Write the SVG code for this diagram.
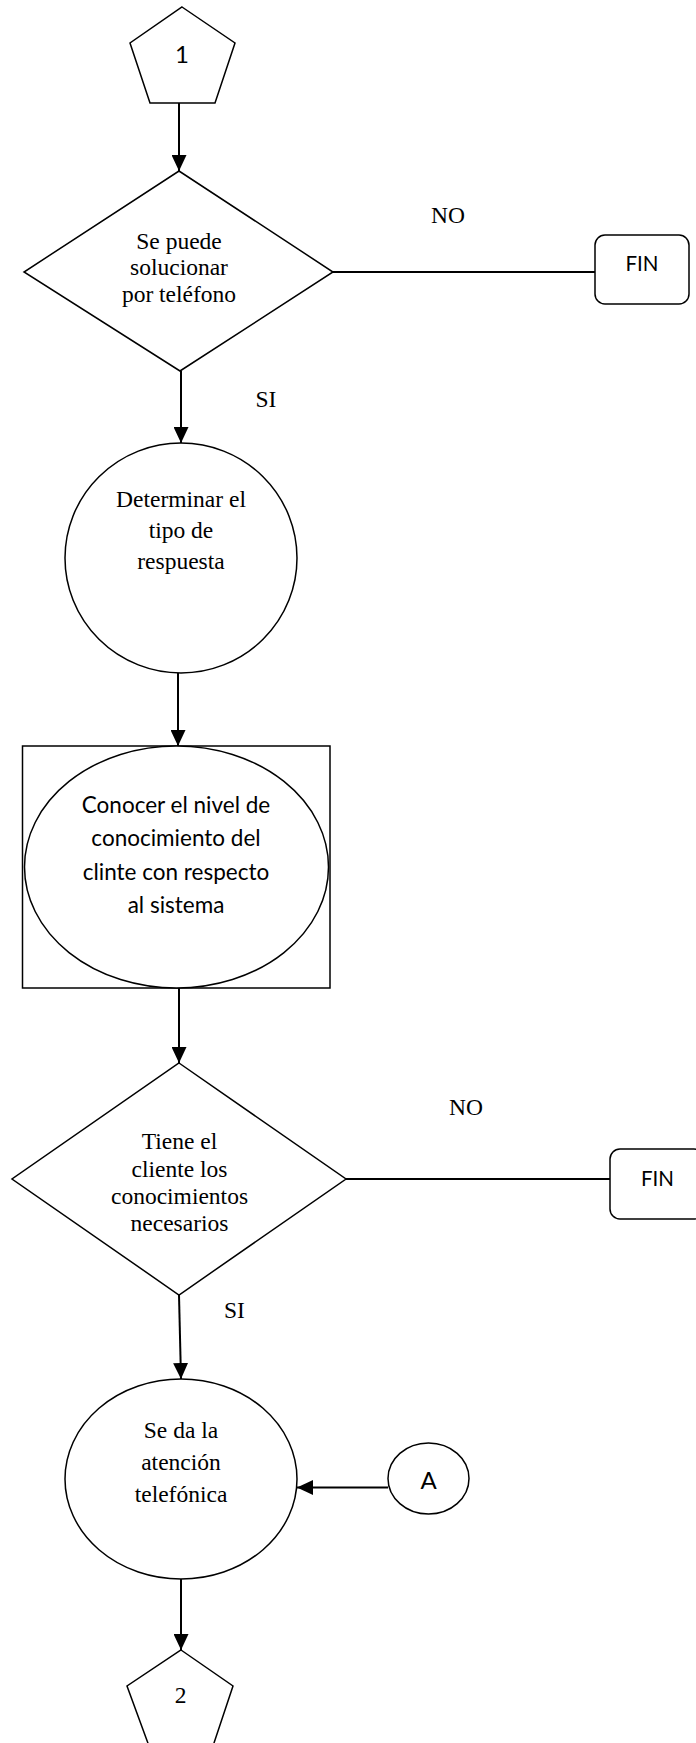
<svg xmlns="http://www.w3.org/2000/svg" width="696" height="1743" viewBox="0 0 696 1743">
  <style>
    .shape { fill: #ffffff; stroke: #000000; stroke-width: 1.5; }
    .edge { fill: none; stroke: #000000; stroke-width: 2; }
    .serif { font-family: "Liberation Serif", "Times New Roman", serif; font-size: 23.5px; fill: #000000; text-anchor: middle; }
    .sans { font-family: Lato, "Liberation Sans", sans-serif; fill: #000000; text-anchor: middle; }
    .label { font-family: "Liberation Serif", "Times New Roman", serif; font-size: 23.5px; fill: #000000; text-anchor: middle; }
  </style>
  <defs>
    <marker id="arrow" markerUnits="userSpaceOnUse" markerWidth="16" markerHeight="15" refX="16" refY="7.5" orient="auto">
      <path d="M0,0 L16,7.5 L0,15 Z" fill="#000000"/>
    </marker>
  </defs>
  <rect width="696" height="1743" fill="#ffffff"/>

  <!-- connectors -->
  <g id="connectors">
    <line class="edge" x1="179" y1="103" x2="179" y2="171" marker-end="url(#arrow)"/>
    <line class="edge" x1="333" y1="272" x2="595" y2="272"/>
    <line class="edge" x1="181" y1="371" x2="181" y2="443" marker-end="url(#arrow)"/>
    <line class="edge" x1="178" y1="673" x2="178" y2="746" marker-end="url(#arrow)"/>
    <line class="edge" x1="179" y1="988" x2="179" y2="1063" marker-end="url(#arrow)"/>
    <line class="edge" x1="346" y1="1179" x2="610" y2="1179"/>
    <line class="edge" x1="179" y1="1295" x2="181" y2="1379" marker-end="url(#arrow)"/>
    <line class="edge" x1="388" y1="1487.5" x2="297" y2="1487.5" marker-end="url(#arrow)"/>
    <line class="edge" x1="181" y1="1579" x2="181" y2="1650" marker-end="url(#arrow)"/>
  </g>

  <!-- off-page connector 1 -->
  <g id="start-1">
    <polygon class="shape" points="182,7 235,43 215,103 150,103 130,43"/>
    <text class="sans" x="182" y="63" font-size="24">1</text>
  </g>

  <!-- decision: phone solution -->
  <g id="decision-phone">
    <polygon class="shape" points="179,171 333,272 180,371 24,272"/>
    <text class="serif" x="179" y="248.5">Se puede</text>
    <text class="serif" x="179" y="275">solucionar</text>
    <text class="serif" x="179" y="301.5">por teléfono</text>
  </g>
  <text class="label" x="448" y="223">NO</text>
  <text class="label" x="266" y="407">SI</text>

  <g id="end-1">
    <rect class="shape" x="595" y="235" width="94" height="69" rx="10" ry="10"/>
    <text class="sans" x="642" y="271" font-size="20.5">FIN</text>
  </g>

  <!-- process: response type -->
  <g id="process-response">
    <ellipse class="shape" cx="181" cy="558" rx="116" ry="115"/>
    <text class="serif" x="181" y="507">Determinar el</text>
    <text class="serif" x="181" y="538">tipo de</text>
    <text class="serif" x="181" y="569">respuesta</text>
  </g>

  <!-- process: knowledge level -->
  <g id="process-knowledge">
    <rect class="shape" x="22.5" y="746" width="307.5" height="242"/>
    <ellipse class="shape" cx="176.5" cy="867" rx="152" ry="121"/>
    <text class="sans" x="176" y="812.5" font-size="22.5">Conocer el nivel de</text>
    <text class="sans" x="176" y="846" font-size="22.5">conocimiento del</text>
    <text class="sans" x="176" y="879.5" font-size="22.5">clinte con respecto</text>
    <text class="sans" x="176" y="913" font-size="22.5">al sistema</text>
  </g>

  <!-- decision: client knowledge -->
  <g id="decision-knowledge">
    <polygon class="shape" points="179,1063 346,1179 179,1295 12,1179"/>
    <text class="serif" x="179.5" y="1149">Tiene el</text>
    <text class="serif" x="179.5" y="1177">cliente los</text>
    <text class="serif" x="179.5" y="1204">conocimientos</text>
    <text class="serif" x="179.5" y="1230.5">necesarios</text>
  </g>
  <text class="label" x="466" y="1115">NO</text>
  <text class="label" x="234.5" y="1318">SI</text>

  <g id="end-2">
    <rect class="shape" x="610" y="1149" width="94" height="70" rx="10" ry="10"/>
    <text class="sans" x="657.5" y="1185.5" font-size="20.5">FIN</text>
  </g>

  <!-- process: phone support -->
  <g id="process-support">
    <ellipse class="shape" cx="181" cy="1479" rx="116" ry="100"/>
    <text class="serif" x="181" y="1438">Se da la</text>
    <text class="serif" x="181" y="1470">atención</text>
    <text class="serif" x="181" y="1501.5">telefónica</text>
  </g>

  <!-- connector A -->
  <g id="connector-a">
    <ellipse class="shape" cx="428.5" cy="1478.5" rx="40.5" ry="35.5"/>
    <text class="sans" x="428.5" y="1489" font-size="24">A</text>
  </g>

  <!-- off-page connector 2 -->
  <g id="end-page-2">
    <polygon class="shape" points="181,1650 233,1686 213,1746 149,1746 127,1686"/>
    <text class="serif" x="180.5" y="1703" font-size="25">2</text>
  </g>
</svg>
